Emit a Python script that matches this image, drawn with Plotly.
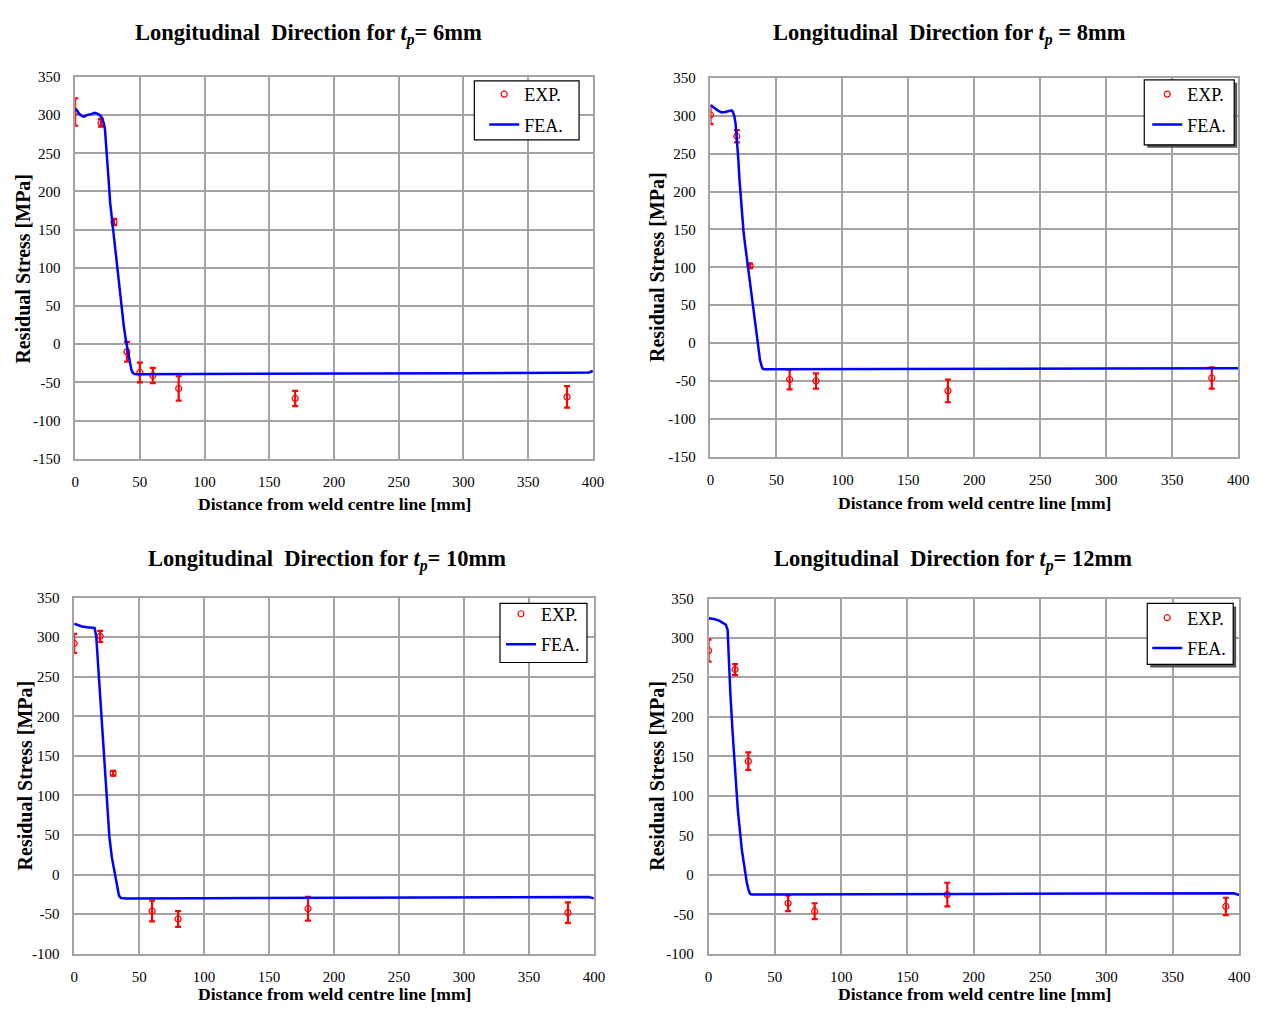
import plotly.graph_objects as go

W, H = 1261, 1012
FONT = "Liberation Serif"

# ---- data: experimental points (x [mm], stress [MPa], +/- error) ----
exp6_x = [0, 20, 30, 40, 50, 60, 80, 170, 380]
exp6_y = [304, 290, 160, -10, -37, -41, -58, -71, -69]
exp6_e = [18, 5, 4, 13, 13, 10, 16, 10, 14]

exp8_x = [0, 20, 30, 60, 80, 180, 380]
exp8_y = [301, 273, 102, -48, -50, -63, -46]
exp8_e = [12, 8, 3, 13, 10, 15, 14]

exp10_x = [0, 20, 30, 60, 80, 180, 380]
exp10_y = [292, 301, 128, -46, -56, -43, -48]
exp10_e = [12, 7, 3, 13, 10, 15, 13]

exp12_x = [0, 20, 30, 60, 80, 180, 390]
exp12_y = [284, 260, 144, -36, -46, -25, -40]
exp12_e = [14, 7, 11, 10, 10, 15, 11]

# ---- data: FEA curves ----
fea6_x = [0, 1, 3, 5, 7, 9, 12, 15, 17, 19, 20.5, 21.5, 22.3, 23, 24, 25, 26, 27, 28,
          29, 30, 31.5, 33, 34.5, 36, 37.5, 39, 40.5, 41.5, 42.5, 43.5, 44.5, 46, 48,
          60, 100, 200, 300, 380, 393, 397, 400]
fea6_y = [306, 307, 302, 299, 298, 300, 301, 303, 302, 300, 297, 293, 288, 282, 262,
          238, 212, 186, 170, 157, 143, 117, 92, 68, 45, 25, 7, -8, -18, -27, -34, -37.5,
          -39, -39.3, -39.2, -39, -38.5, -38, -37.5, -37.5, -37, -35]

fea8_x = [0, 2, 4, 6, 8.5, 11, 14, 16, 17, 18, 19, 20, 21, 22, 23, 24, 25, 26, 27,
          28.7, 30.5, 32.4, 34.3, 36.2, 37.5, 38.7, 39.5, 40.5, 50, 100, 200, 300, 400]
fea8_y = [314, 312, 309, 306.5, 304.5, 305, 306, 307, 305, 300, 290, 270, 245, 215,
          190, 166, 148, 133, 119, 99, 72, 45, 18, -8, -22, -30, -33.5, -34.5, -34.5,
          -34.3, -34, -33.5, -33]

fea10_x = [0, 3, 6, 10, 14, 15.7, 17, 19, 20.8, 22.6, 24.6, 27.1, 29, 31, 32.5, 33.5,
           34.5, 36, 40, 100, 200, 300, 390, 396, 400]
fea10_y = [317, 315, 313.5, 312.5, 312, 311.5, 301, 251, 198, 148, 98, 48, 22, 3, -12,
           -21, -26.5, -29.5, -30, -29.8, -29.3, -28.8, -28.3, -28.3, -30]

fea12_x = [0, 4, 8, 11, 13, 14.4, 15.1, 16.4, 18.1, 20.1, 22.1, 25.1, 27, 28.8, 30,
           31.3, 32.6, 40, 100, 200, 300, 390, 396, 400]
fea12_y = [325, 324, 322, 319.5, 317, 310.5, 273, 232, 182, 132, 82, 32, 10, -9, -18,
           -24, -25, -25, -24.8, -24.2, -23.7, -23, -23.3, -25.5]

# ---- tick labels ----
x_ticks = [0, 50, 100, 150, 200, 250, 300, 350, 400]
y_ticks_top = [-150, -100, -50, 0, 50, 100, 150, 200, 250, 300, 350]
y_ticks_bottom = [-100, -50, 0, 50, 100, 150, 200, 250, 300, 350]

thickness_labels = ["6mm", "8mm", "10mm", "12mm"]
title_eq = ["= ", " = ", "= ", "= "]

# ---- panel geometry in pixels ----
# box: plot area (left, right, top, bottom); lbox: legend frame (l, r, t, b)
panels = [
    dict(box=(72, 596, 70, 458), yt=y_ticks_top, title=(308, 27), ytitle=(19, 265),
         xtitle=(334, 504), lbox=(476, 582, 74, 134), ltext=(526, 89), shadow=False,
         ex=exp6_x, ey=exp6_y, ee=exp6_e, fx=fea6_x, fy=fea6_y),
    dict(box=(715, 1249, 71, 456), yt=y_ticks_top, title=(957, 27), ytitle=(661, 263),
         xtitle=(982, 503), lbox=(1154, 1245, 73, 139), ltext=(1197, 89), shadow=True,
         ex=exp8_x, ey=exp8_y, ee=exp8_e, fx=fea8_x, fy=fea8_y),
    dict(box=(71, 597, 599, 961), yt=y_ticks_bottom, title=(327, 561), ytitle=(21, 780),
         xtitle=(334, 1002), lbox=(502, 590, 605, 665), ltext=(543, 617), shadow=False,
         ex=exp10_x, ey=exp10_y, ee=exp10_e, fx=fea10_x, fy=fea10_y),
    dict(box=(713, 1250, 600, 961), yt=y_ticks_bottom, title=(960, 561), ytitle=(661, 780),
         xtitle=(982, 1002), lbox=(1157, 1244, 605, 667), ltext=(1197, 621), shadow=True,
         ex=exp12_x, ey=exp12_y, ee=exp12_e, fx=fea12_x, fy=fea12_y),
]


def px(x):
    return x / W


def py(y):
    return 1 - y / H


def tick_text(v):
    # plain hyphen for negatives
    return ("-" if v < 0 else "") + str(abs(v))


fig = go.Figure()
annotations = []
shapes = []
layout = {}
GRID = "#a3a3a3"

for i, p in enumerate(panels):
    n = "" if i == 0 else str(i + 1)
    xa, ya = "x" + n, "y" + n
    lg = "legend" + n
    l, r, t, b = p["box"]

    fig.add_trace(go.Scatter(
        x=p["ex"], y=p["ey"], mode="markers", name="EXP.",
        xaxis=xa, yaxis=ya, legend=lg, legendgroup="exp",
        marker=dict(symbol="circle-open", color="#ff0000", size=6, line=dict(width=1.2)),
        error_y=dict(type="data", array=p["ee"], visible=True, color="#ff0000",
                     thickness=2.2, width=3),
    ))
    fig.add_trace(go.Scatter(
        x=p["fx"], y=p["fy"], mode="lines", name="FEA.",
        xaxis=xa, yaxis=ya, legend=lg, legendgroup="fea",
        line=dict(color="#0000ff", width=2.5),
    ))

    common = dict(showgrid=True, gridcolor=GRID, gridwidth=1.5, zeroline=False,
                  showline=True, linecolor=GRID, linewidth=1.5, mirror=True,
                  ticks="", tickfont=dict(family=FONT, size=15, color="black"))
    yt = p["yt"]
    layout["xaxis" + n] = dict(common, domain=[px(l), px(r)], range=[0, 400],
                               tickmode="array", tickvals=x_ticks,
                               ticktext=[tick_text(v) for v in x_ticks],
                               anchor=ya, ticklabelstandoff=8)
    layout["yaxis" + n] = dict(common, domain=[py(b), py(t)], range=[yt[0], yt[-1]],
                               tickmode="array", tickvals=yt,
                               ticktext=[tick_text(v) for v in yt],
                               anchor=xa, ticklabelstandoff=10)

    # legend frame (with drop shadow on the right-hand panels)
    bl, br, bt, bb = p["lbox"]
    if p["shadow"]:
        shapes.append(dict(type="rect", xref="paper", yref="paper", layer="above",
                           x0=px(bl + 3), x1=px(br + 3), y0=py(bb + 3), y1=py(bt + 3),
                           fillcolor="#555555", line=dict(width=0)))
    shapes.append(dict(type="rect", xref="paper", yref="paper", layer="above",
                       x0=px(bl), x1=px(br), y0=py(bb), y1=py(bt),
                       fillcolor="white", line=dict(color="black", width=1.2)))

    tx0, ty0 = p["ltext"]
    layout[lg] = dict(x=px(tx0 - 40), y=py(ty0 - 20), xanchor="left", yanchor="top",
                      xref="paper", yref="paper", bgcolor="rgba(0,0,0,0)",
                      borderwidth=0, itemwidth=30,
                      tracegroupgap=4, traceorder="grouped",
                      font=dict(family=FONT, size=18, color="black"))

    tx, ty = p["title"]
    annotations.append(dict(
        text=("Longitudinal\u00a0\u00a0Direction for <i>t<sub>p</sub></i>"
              + title_eq[i] + thickness_labels[i]),
        x=px(tx), y=py(ty), xref="paper", yref="paper", showarrow=False,
        xanchor="center", yanchor="middle",
        font=dict(family=FONT, size=22.5, color="black", weight="bold")))
    yx, yy = p["ytitle"]
    annotations.append(dict(
        text="Residual Stress [MPa]", x=px(yx), y=py(yy), xref="paper", yref="paper",
        showarrow=False, textangle=-90, xanchor="center", yanchor="middle",
        font=dict(family=FONT, size=20, color="black", weight="bold")))
    xx, xy = p["xtitle"]
    annotations.append(dict(
        text="Distance from weld centre line [mm]", x=px(xx), y=py(xy),
        xref="paper", yref="paper", showarrow=False,
        xanchor="center", yanchor="middle",
        font=dict(family=FONT, size=17.6, color="black", weight="bold")))

fig.update_layout(
    width=W, height=H, margin=dict(l=0, r=0, t=0, b=0),
    paper_bgcolor="white", plot_bgcolor="white",
    annotations=annotations, shapes=shapes, **layout,
)

fig.write_html("out.html")
